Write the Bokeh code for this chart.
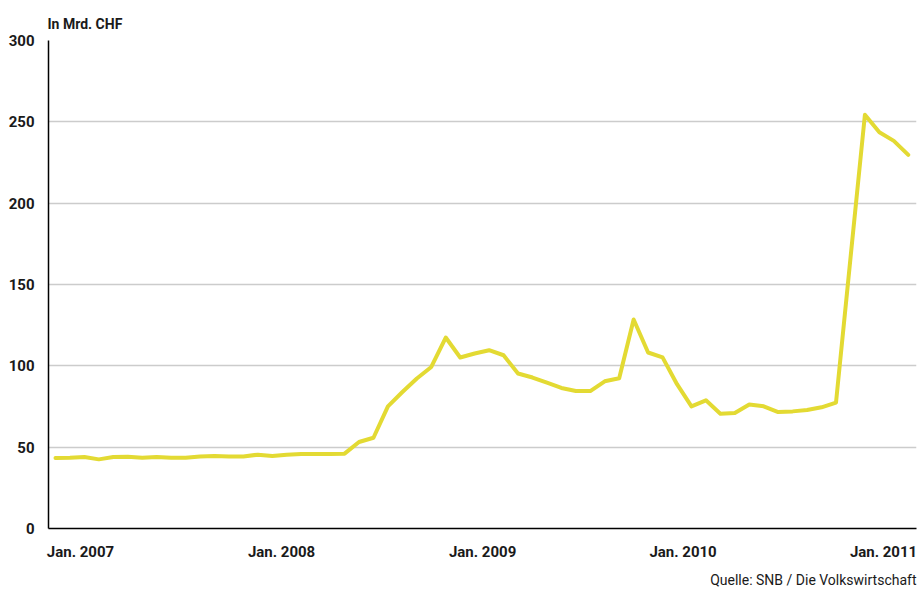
from bokeh.plotting import figure
from bokeh.models import FixedTicker, ColumnDataSource, Range1d, Title
from bokeh.embed import file_html
from bokeh.resources import INLINE

# ---- data (Mrd. CHF, monthly, Jan 2007 .. Dec 2011) ----
month_index = list(range(60))
values = [
    43.3, 43.5, 43.9, 42.5, 43.9, 44.1, 43.5, 43.9, 43.5, 43.5, 44.3, 44.5,
    44.3, 44.3, 45.4, 44.5, 45.4, 45.8, 45.8, 45.8, 46.0, 53.2, 55.8, 75.1,
    83.9, 92.2, 99.3, 117.4, 105.1, 107.6, 109.6, 106.5, 95.3, 92.8, 89.7, 86.4,
    84.5, 84.5, 90.5, 92.4, 128.5, 108.2, 105.2, 88.7, 75.1, 78.8, 70.6, 71.0,
    76.2, 75.1, 71.6, 72.0, 72.8, 74.5, 77.4, 166.0, 254.3, 243.6, 238.3, 229.7,
]
x_tick_pos = [1.73, 15.64, 29.55, 43.42, 57.29]
x_tick_labels = ["Jan. 2007", "Jan. 2008", "Jan. 2009", "Jan. 2010", "Jan. 2011"]
y_ticks = [0, 50, 100, 150, 200, 250, 300]
unit_text = "In Mrd. CHF"
source_text = "Quelle: SNB / Die Volkswirtschaft"

TEXT = "#1a1a1a"
FONT = "Roboto"

src = ColumnDataSource(dict(x=month_index, y=values))

p = figure(width=919, height=594, output_backend="svg", toolbar_location=None,
           x_range=Range1d(-0.484, 59.57), y_range=Range1d(0, 300),
           min_border_left=48, min_border_right=3, min_border_top=40,
           min_border_bottom=66, background_fill_color="white",
           border_fill_color="white", title=unit_text, title_location="above")
p.outline_line_color = None

p.title.align = "left"
p.title.offset = -1
p.title.standoff = 17
p.title.text_font = FONT
p.title.text_font_style = "bold"
p.title.text_font_size = "14px"
p.title.text_color = TEXT

p.line("x", "y", source=src, line_color="#e3da33", line_width=4,
       line_join="round", line_cap="round")

# grid
p.xgrid.visible = False
p.ygrid.ticker = FixedTicker(ticks=y_ticks)
p.ygrid.grid_line_color = "#cccccc"
p.ygrid.grid_line_width = 1.5

# y axis
ya = p.yaxis[0]
ya.ticker = FixedTicker(ticks=y_ticks)
ya.axis_line_color = "black"
ya.axis_line_width = 1.5
ya.major_tick_line_color = None
ya.minor_tick_line_color = None
ya.major_tick_out = 0
ya.major_tick_in = 0
ya.major_label_standoff = 14
ya.major_label_text_font = FONT
ya.major_label_text_font_style = "bold"
ya.major_label_text_font_size = "15px"
ya.major_label_text_color = TEXT

# x axis
xa = p.xaxis[0]
xa.ticker = FixedTicker(ticks=x_tick_pos)
xa.major_label_overrides = {t: l for t, l in zip(x_tick_pos, x_tick_labels)}
xa.axis_line_color = "black"
xa.axis_line_width = 1.5
xa.major_tick_line_color = None
xa.minor_tick_line_color = None
xa.major_tick_out = 0
xa.major_tick_in = 0
xa.major_label_standoff = 14
xa.major_label_text_font = FONT
xa.major_label_text_font_style = "bold"
xa.major_label_text_font_size = "15px"
xa.major_label_text_color = TEXT

# source line below the axis
p.add_layout(Title(text=source_text, align="right", text_font=FONT,
                   text_font_style="normal", text_font_size="14px",
                   text_color=TEXT, standoff=13, offset=0), "below")

open("out.html", "w").write(file_html(p, INLINE))
